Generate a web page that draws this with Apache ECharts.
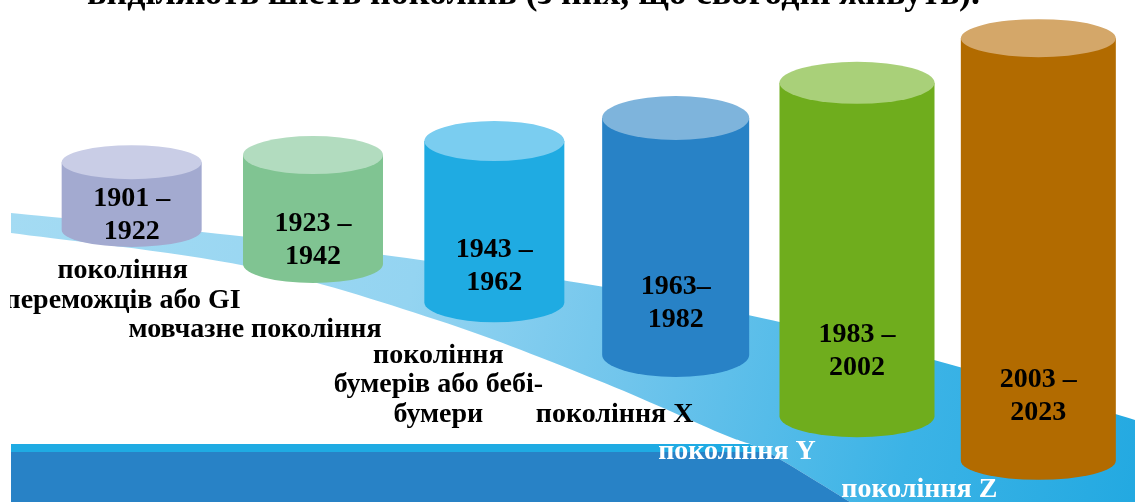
<!DOCTYPE html>
<html><head><meta charset="utf-8">
<script src="https://cdn.jsdelivr.net/npm/echarts@6/dist/echarts.min.js"></script>
<style>html,body{margin:0;padding:0;background:#fff}#c{width:1135px;height:502px}</style>
</head><body><div id="c"></div>
<script>
// ---- data ----
const generations = ['покоління\nпереможців або GI', 'мовчазне покоління', 'покоління\nбумерів або бебі-\nбумери', 'покоління X', 'покоління Y', 'покоління Z'];
const yearRanges = ['1901 –\n1922', '1923 –\n1942', '1943 –\n1962', '1963–\n1982', '1983 –\n2002', '2003 –\n2023'];
const cylinderBase = [54.2, 47.4, 39.8, 29.3, 17.1, 8.2];
const cylinderTop = [67.7, 69.1, 71.9, 76.5, 83.5, 92.4];
const titleText = 'виділяють шість поколінь (з них, що сьогодні живуть).';

// ---- style ----
const SERIF = '"Liberation Serif","Times New Roman",serif';
const bodyColors = ['#A3AAD0', '#80C492', '#1FABE2', '#2882C6', '#6FAD1D', '#B26B00'];
const capColors = ['#C9CDE6', '#B2DCBF', '#7ACDF0', '#7EB4DC', '#A9D079', '#D4A769'];
const widths = [140, 140, 140, 147, 155, 155];
const capRy = [17, 19, 20, 22, 21, 19];
const nameOffsets = [[-9, 56], [-58, 66], [-56, 83], [-61, 60], [-120, 36], [-119, 29]];
const nameColors = ['#000', '#000', '#000', '#000', '#fff', '#fff'];

function spline(pts, n) {
  const out = [];
  for (let i = 0; i < pts.length - 1; i++) {
    const p0 = pts[Math.max(i - 1, 0)], p1 = pts[i], p2 = pts[i + 1], p3 = pts[Math.min(i + 2, pts.length - 1)];
    for (let k = 0; k < n; k++) {
      const t = k / n, t2 = t * t, t3 = t2 * t;
      const f = j => 0.5 * (2 * p1[j] + (-p0[j] + p2[j]) * t + (2 * p0[j] - 5 * p1[j] + 4 * p2[j] - p3[j]) * t2 + (-p0[j] + 3 * p1[j] - 3 * p2[j] + p3[j]) * t3);
      out.push([f(0), f(1)]);
    }
  }
  out.push(pts[pts.length - 1]);
  return out;
}
const upper = spline([[11, 213], [230, 235], [384, 255], [580, 283], [739, 313], [934, 360], [1135, 420]], 16);
const lower = spline([[11, 233], [246, 266], [437, 320], [597, 380], [720, 433], [767, 452], [850, 502]], 16);
function xAt(y) {
  for (let i = 0; i < lower.length - 1; i++) {
    const a = lower[i], b = lower[i + 1];
    if ((a[1] - y) * (b[1] - y) <= 0) return a[0] + (b[0] - a[0]) * (y - a[1]) / ((b[1] - a[1]) || 1);
  }
  return lower[lower.length - 1][0];
}
const bandPts = upper.concat([[1135, 502], [850, 502]]).concat(lower.slice(0, -1).reverse());
const cyanPts = [[11, 444], [xAt(444), 444]].concat(lower.filter(p => p[1] > 444 && p[1] < 452)).concat([[xAt(452), 452], [11, 452]]);
const darkPts = [[11, 452], [xAt(452), 452]].concat(lower.filter(p => p[1] > 452 && p[1] < 502)).concat([[850, 502], [11, 502]]);

function renderItem(params, api) {
  const i = params.dataIndex;
  const pb = api.coord([i, api.value(1)]);
  const pt = api.coord([i, api.value(2)]);
  const cx = pb[0], by = pb[1], ty = pt[1];
  const rx = widths[i] / 2, ry = capRy[i];
  const x1 = cx - rx, x2 = cx + rx;
  const body = `M${x1} ${ty} L${x1} ${by} A${rx} ${ry} 0 0 0 ${x2} ${by} L${x2} ${ty} Z`;
  const cap = `M${x1} ${ty} A${rx} ${ry} 0 1 0 ${x2} ${ty} A${rx} ${ry} 0 1 0 ${x1} ${ty} Z`;
  const h = by - ty;
  const labelY = by - Math.min(0.22 * h, 65);
  const off = nameOffsets[i];
  return {
    type: 'group', children: [
      { type: 'path', shape: { pathData: body }, style: { fill: bodyColors[i] } },
      { type: 'path', shape: { pathData: cap }, style: { fill: capColors[i] } },
      { type: 'text', x: cx, y: labelY, style: { text: yearRanges[i], font: 'bold 28px ' + SERIF, fill: '#000', align: 'center', verticalAlign: 'middle', lineHeight: 33 } },
      { type: 'text', x: cx + off[0], y: by + off[1], z2: 50, style: { text: generations[i], font: 'bold 28px ' + SERIF, fill: nameColors[i], align: 'center', verticalAlign: 'middle', lineHeight: 29.5 } }
    ]
  };
}

const chart = echarts.init(document.getElementById('c'));
chart.setOption({
  animation: false,
  backgroundColor: '#fff',
  grid: { left: 41, right: 6, top: 0, bottom: 0 },
  xAxis: { type: 'category', data: generations, show: false },
  yAxis: { type: 'value', min: 0, max: 100, show: false },
  graphic: [
    { type: 'polygon', z: 0, shape: { points: bandPts }, style: { fill: new echarts.graphic.LinearGradient(0, 0, 1, 1, [
      { offset: 0, color: '#A4DBF3' }, { offset: 0.35, color: '#94D4F1' }, { offset: 0.55, color: '#70C5EC' }, { offset: 0.8, color: '#3BB3E6' }, { offset: 1, color: '#23A9E1' }]) } },
    { type: 'polygon', z: 0, shape: { points: cyanPts }, style: { fill: '#1FABE3' } },
    { type: 'polygon', z: 0, shape: { points: darkPts }, style: { fill: '#2882C6' } },
    { type: 'text', z: 10, x: 87, y: -5, style: { text: titleText, font: 'bold 36px ' + SERIF, fill: '#000', align: 'left', verticalAlign: 'middle' } },
    { type: 'rect', z: 20, shape: { x: 0, y: 0, width: 10, height: 502 }, style: { fill: '#fff' } }
  ],
  series: [{
    type: 'custom',
    renderItem: renderItem,
    encode: { x: 0, y: [1, 2] },
    data: generations.map((g, i) => [i, cylinderBase[i], cylinderTop[i]]),
    z: 2
  }]
});
</script></body></html>
